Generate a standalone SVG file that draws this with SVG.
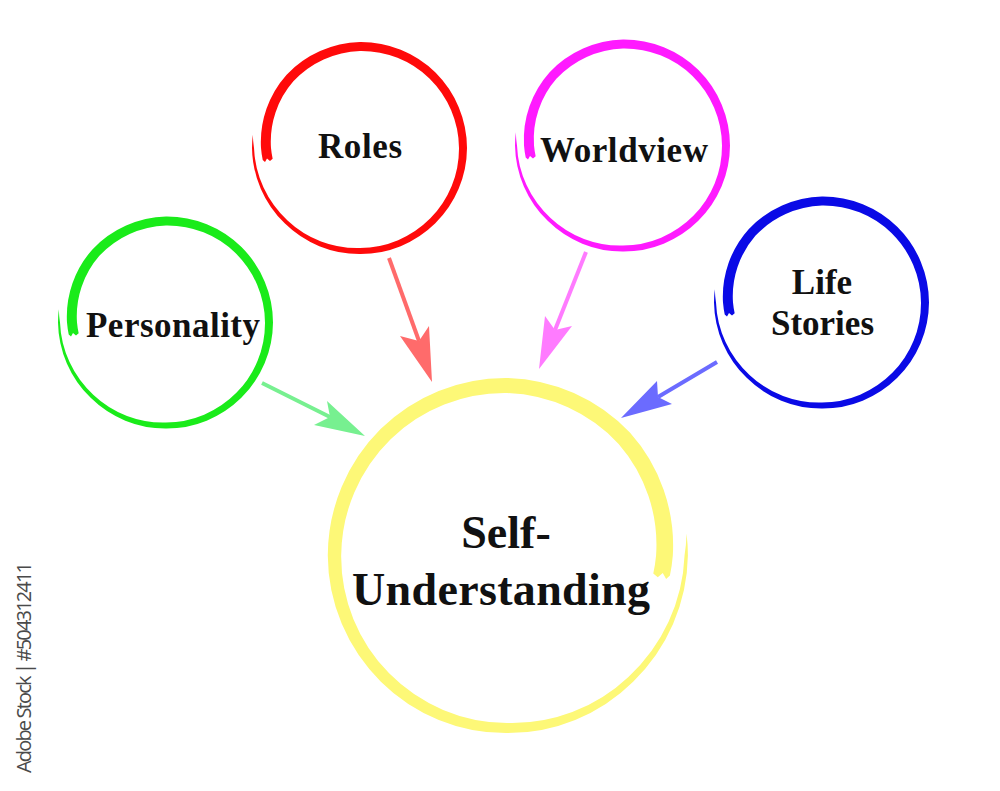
<svg xmlns="http://www.w3.org/2000/svg" width="1000" height="791" viewBox="0 0 1000 791">
  <style>
    .lbl { font-family: "Liberation Serif", "Times New Roman", serif; font-weight: bold; font-size: 35px; fill: #111; text-anchor: middle; }
    .big { font-size: 46px; }
    .stock { font-family: "Open Sans", "Liberation Sans", sans-serif; font-size: 20px; fill: #4a4a4a; }
  </style>
  <defs>
    <path id="brush" d="M -97.27 11.95 A 98.5 98.5 0 0 1 -99 0 A 101 101 0 0 1 -73.36 -73.36 A 105 105 0 0 1 0 -106 A 106.4 106.4 0 0 1 75.48 -75.48 A 106.9 106.9 0 0 1 107 0 A 106.75 106.75 0 0 1 75.31 75.31 A 106.25 106.25 0 0 1 0 106 A 106.25 106.25 0 0 1 -75.31 75.31 A 107.25 107.25 0 0 1 -108 0 A 108 108 0 0 1 -107.19 -13.17 A 106.5 106.5 0 0 0 -106 0 A 104.25 104.25 0 0 0 -72.48 72.48 A 101.25 101.25 0 0 0 0 100 A 99.75 99.75 0 0 0 70.36 70.36 A 99.25 99.25 0 0 0 99 0 A 98.6 98.6 0 0 0 69.47 -69.47 A 97.6 97.6 0 0 0 0 -97 A 95.6 95.6 0 0 0 -66.64 -66.64 A 91.6 91.6 0 0 0 -89 0 A 88.5 88.5 0 0 0 -87.34 10.73 L -90 13 L -93 10.5 L -95 14 Z"/>
  </defs>
  <rect width="1000" height="791" fill="#ffffff"/>

  <g id="connectors" stroke-width="4" stroke-linecap="butt">
    <g id="arrow-roles">
      <line x1="389" y1="258" x2="419" y2="341" stroke="#ff6b6b"/>
      <polygon points="432,382 400,336 419,341 429,326" fill="#ff6b6b"/>
    </g>
    <g id="arrow-personality">
      <line x1="262" y1="383" x2="330" y2="417" stroke="#77f090"/>
      <polygon points="365,436 327,401 330,417 314,425" fill="#77f090"/>
    </g>
    <g id="arrow-worldview">
      <line x1="586" y1="252" x2="555" y2="330" stroke="#ff7bff"/>
      <polygon points="539,369 545,316 555,330 572,326" fill="#ff7bff"/>
    </g>
    <g id="arrow-lifestories">
      <line x1="717" y1="362" x2="658" y2="397" stroke="#6b6bff"/>
      <polygon points="621,418 657,381 658,397 672,404" fill="#6b6bff"/>
    </g>
  </g>

  <g id="node-roles">
    <use href="#brush" transform="translate(360,148)" fill="#ff0a0a"/>
    <text class="lbl" x="360" y="158" textLength="84">Roles</text>
  </g>
  <g id="node-personality">
    <use href="#brush" transform="translate(166,322.5)" fill="#1aeb1a"/>
    <text class="lbl" x="173" y="337" textLength="174">Personality</text>
  </g>
  <g id="node-worldview">
    <use href="#brush" transform="translate(623,145.5)" fill="#ff1aff"/>
    <text class="lbl" x="624" y="162" textLength="168">Worldview</text>
  </g>
  <g id="node-lifestories">
    <use href="#brush" transform="translate(822,302.5)" fill="#0a0ae6"/>
    <text class="lbl" x="822" y="294">Life</text>
    <text class="lbl" x="822.5" y="335">Stories</text>
  </g>
  <g id="node-self-understanding">
    <use href="#brush" transform="translate(507,555.5) scale(-1.675,1.675)" fill="#fdf877"/>
    <text class="lbl big" x="506" y="548">Self-</text>
    <text class="lbl big" x="501" y="605" textLength="298">Understanding</text>
  </g>

  <text class="stock" transform="translate(31,773) rotate(-90)" x="0" y="0" textLength="211">Adobe Stock | #504312411</text>
</svg>
